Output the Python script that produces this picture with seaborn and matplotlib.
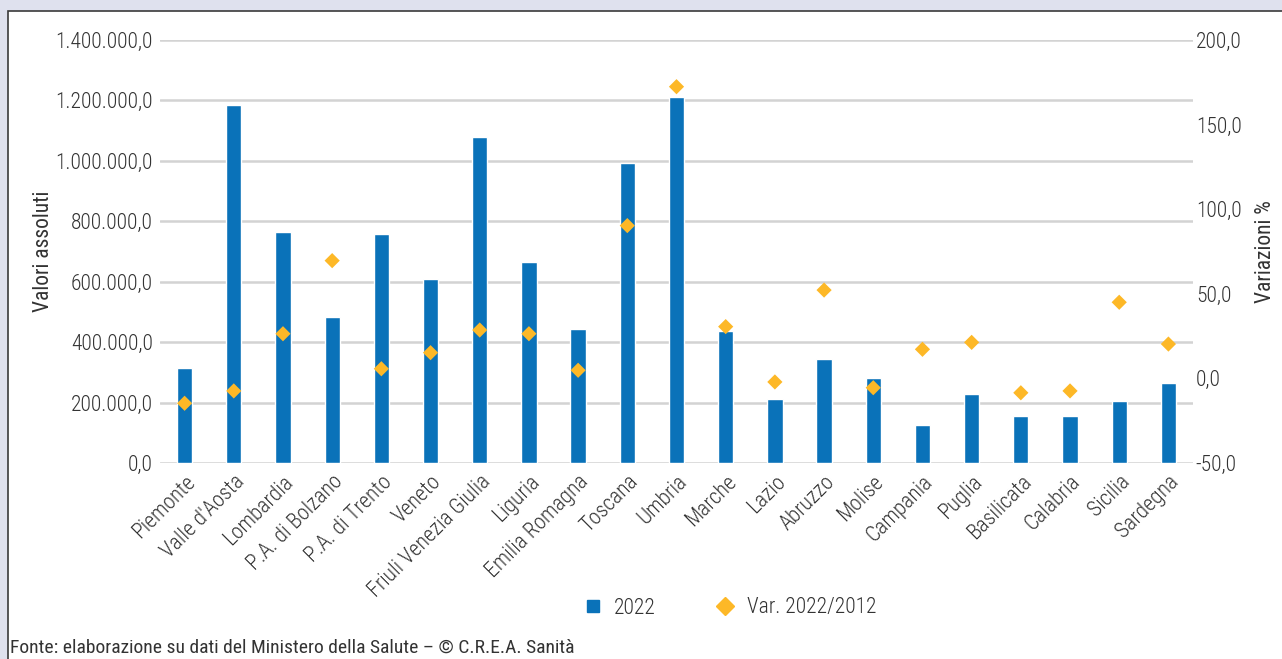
import matplotlib
matplotlib.use("Agg")
import matplotlib.pyplot as plt
import matplotlib.patches as mpatches
from matplotlib.lines import Line2D
from matplotlib.ticker import FuncFormatter, FixedLocator
from matplotlib import font_manager as fm
import seaborn as sns
import pandas as pd

regions = ["Piemonte", "Valle d'Aosta", "Lombardia", "P.A. di Bolzano", "P.A. di Trento",
           "Veneto", "Friuli Venezia Giulia", "Liguria", "Emilia Romagna", "Toscana",
           "Umbria", "Marche", "Lazio", "Abruzzo", "Molise", "Campania", "Puglia",
           "Basilicata", "Calabria", "Sicilia", "Sardegna"]
values_2022 = [316000, 1185000, 763000, 482000, 758000, 609000, 1080000, 666000, 442000,
               994000, 1212000, 437000, 212000, 344000, 281000, 126000, 229000, 156000,
               156000, 206000, 265000]
var_2022_2012 = [-14.7, -7.4, 26.4, 69.6, 5.7, 15.2, 28.6, 26.4, 4.8, 90.3, 172.4, 30.6,
                 -2.1, 52.2, -5.5, 17.2, 21.3, -8.5, -7.4, 45.0, 20.3]
left_ticks = [0, 200000, 400000, 600000, 800000, 1000000, 1200000, 1400000]
right_ticks = [-50, 0, 50, 100, 150, 200]

BAR = "#0a72b9"
DIA = "#fdb827"
TXT = "#333333"
GRID = "#d3d3d3"

sns.set_style("white")
available = {f.name for f in fm.fontManager.ttflist}
prefs = ["Liberation Sans Narrow", "Roboto Condensed", "PT Sans Narrow", "Archivo Narrow",
         "Open Sans Condensed", "Barlow Condensed", "Liberation Sans"]
family = next((p for p in prefs if p in available), "DejaVu Sans")
plt.rcParams['font.family'] = [family, 'DejaVu Sans']
plt.rcParams['font.weight'] = 'light'

W, H = 1282, 659
fig = plt.figure(figsize=(W / 100, H / 100), dpi=100, facecolor="#dfe1ee")

# white panel
fig.patches.append(mpatches.Rectangle((8 / W, -0.05), 1.0, 1 - 11 / H + 0.05,
                                      transform=fig.transFigure, facecolor="white",
                                      edgecolor="#3a3a3a", linewidth=1.2, zorder=-5))

ax = fig.add_axes([160 / W, 1 - 463 / H, (1193 - 160) / W, (463 - 40) / H])
ax.set_facecolor("none")

df = pd.DataFrame({"Regione": regions, "v2022": values_2022, "var": var_2022_2012})

sns.barplot(data=df, x="Regione", y="v2022", color=BAR, width=0.31, ax=ax,
            saturation=1, zorder=2)
ax.set_ylim(0, 1400000)
ax.yaxis.set_major_locator(FixedLocator(left_ticks))
ax.yaxis.set_major_formatter(FuncFormatter(
    lambda v, p: f"{v:,.1f}".replace(",", "X").replace(".", ",").replace("X", ".")))
ax.grid(axis="y", color=GRID, linewidth=1.8, zorder=0)
ax.set_axisbelow(True)
for s in ax.spines.values():
    s.set_visible(False)
FS = 15.5
ax.tick_params(axis="y", length=0, pad=5, labelsize=FS, labelcolor=TXT)
ax.tick_params(axis="x", length=0, pad=6, labelsize=FS, labelcolor=TXT)
ax.set_xlabel("")
ax.set_ylabel("Valori assoluti", fontsize=FS, color=TXT, labelpad=1)
plt.setp(ax.get_xticklabels(), rotation=45, ha="right", rotation_mode="anchor")
ax.set_xlim(-0.5, len(regions) - 0.5)

ax2 = ax.twinx()
sns.scatterplot(data=df, x="Regione", y="var", marker="D", s=60, color=DIA,
                edgecolor="none", ax=ax2, zorder=3)
ax2.set_ylim(-50, 200)
ax2.yaxis.set_major_locator(FixedLocator(right_ticks))
ax2.yaxis.set_major_formatter(FuncFormatter(lambda v, p: f"{v:.1f}".replace(".", ",")))
for s in ax2.spines.values():
    s.set_visible(False)
ax2.tick_params(axis="y", length=0, pad=2, labelsize=FS, labelcolor=TXT)
ax2.set_ylabel("Variazioni %", fontsize=FS, color=TXT, labelpad=10)
ax2.set_xlim(-0.5, len(regions) - 0.5)

handles = [Line2D([], [], marker="s", linestyle="none", color=BAR, markersize=8.5),
           Line2D([], [], marker="D", linestyle="none", color=DIA, markersize=9)]
fig.legend(handles, ["2022", "Var. 2022/2012"], loc="center",
           bbox_to_anchor=(729 / W, 1 - 608 / H), ncol=2, frameon=False,
           fontsize=FS, labelcolor=TXT, handlelength=1.0, handletextpad=0.5,
           columnspacing=2.7)

fig.text(10 / W, 1 - 648 / H, "Fonte: elaborazione su dati del Ministero della Salute – © C.R.E.A. Sanità",
         fontsize=14, fontweight="normal", color=TXT, va="center", ha="left")

fig.savefig("out.png", dpi=100, facecolor=fig.get_facecolor())
